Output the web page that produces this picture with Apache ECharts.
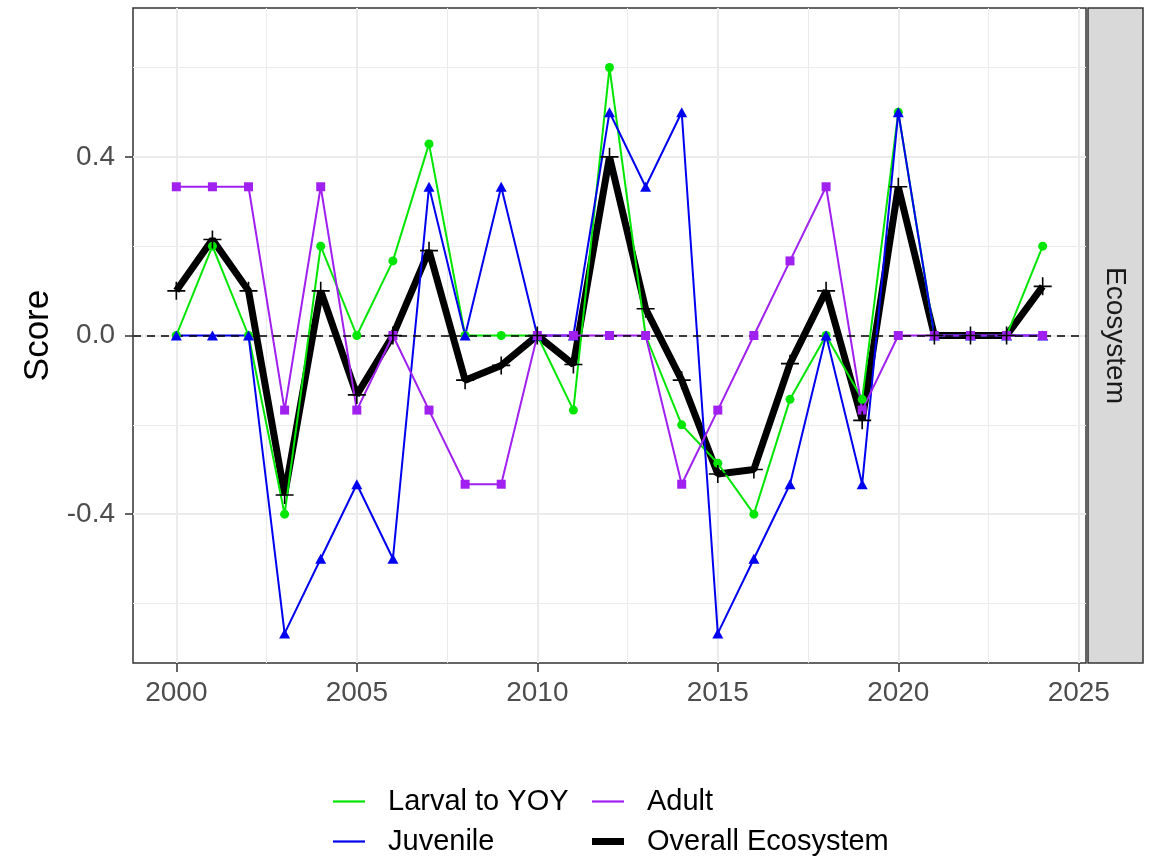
<!DOCTYPE html>
<html><head><meta charset="utf-8">
<script src="https://cdn.jsdelivr.net/npm/echarts@6/dist/echarts.min.js"></script>
<style>html,body{margin:0;padding:0;background:#fff}#c{width:1153px;height:856px}</style>
</head><body><div id="c"></div>
<script>
const years    = [2000,2001,2002,2003,2004,2005,2006,2007,2008,2009,2010,2011,2012,2013,2014,2015,2016,2017,2018,2019,2020,2021,2022,2023,2024];
const larval   = [0, 0.2, 0, -0.4, 0.2, 0, 0.167, 0.429, 0, 0, 0, -0.167, 0.6, 0, -0.2, -0.286, -0.4, -0.143, 0, -0.143, 0.5, 0, 0, 0, 0.2];
const juvenile = [0, 0, 0, -0.667, -0.5, -0.333, -0.5, 0.333, 0, 0.333, 0, 0, 0.5, 0.333, 0.5, -0.667, -0.5, -0.333, 0, -0.333, 0.5, 0, 0, 0, 0];
const adult    = [0.333, 0.333, 0.333, -0.167, 0.333, -0.167, 0, -0.167, -0.333, -0.333, 0, 0, 0, 0, -0.333, -0.167, 0, 0.167, 0.333, -0.167, 0, 0, 0, 0, 0];
const overall  = [0.1, 0.215, 0.1, -0.357, 0.1, -0.133, 0, 0.19, -0.1, -0.067, 0, -0.065, 0.4, 0.06, -0.1, -0.31, -0.3, -0.063, 0.1, -0.19, 0.333, 0, 0, 0, 0.11];
const seriesNames = ['Larval to YOY', 'Juvenile', 'Adult', 'Overall Ecosystem'];
const xTicks = [2000, 2005, 2010, 2015, 2020, 2025];
const xMinor = [2002.5, 2007.5, 2012.5, 2017.5, 2022.5];
const yTicks = [-0.4, 0, 0.4];
const yMinor = [-0.6, -0.2, 0.2, 0.6];
const stripLabel = 'Ecosystem';
const yTitle = 'Score';

const FONT = '"Liberation Sans", Arial, sans-serif';
const C = { green: '#00E600', blue: '#0000F0', purple: '#A020F0', black: '#000000' };
const pairs = arr => years.map((y, i) => [y, arr[i]]);
const plusPath = 'path://M-9,-0.8L9,-0.8L9,0.8L-9,0.8Z M-0.8,-9L0.8,-9L0.8,9L-0.8,9Z';

const gridLines = [].concat(
  xMinor.map(v => ({ xAxis: v, lineStyle: { width: 1, color: '#EBEBEB', type: 'solid' } })),
  yMinor.map(v => ({ yAxis: v, lineStyle: { width: 1, color: '#EBEBEB', type: 'solid' } })),
  xTicks.map(v => ({ xAxis: v, lineStyle: { width: 2, color: '#EBEBEB', type: 'solid' } })),
  yTicks.map(v => ({ yAxis: v, lineStyle: { width: 2, color: '#EBEBEB', type: 'solid' } }))
);

function lineSeries(name, arr, color, width, z, extra) {
  return Object.assign({
    type: 'line', name: name, data: pairs(arr), symbol: 'none', z: z,
    lineStyle: { color: color, width: width }, itemStyle: { color: color },
    silent: true, emphasis: { disabled: true }
  }, extra || {});
}
function pointSeries(name, arr, color, symbol, size, z) {
  return {
    type: 'scatter', name: name, data: pairs(arr), symbol: symbol, symbolSize: size, z: z,
    itemStyle: { color: color, opacity: 1 }, silent: true, emphasis: { disabled: true }
  };
}
function legendItem(name, left, top, icon) {
  return {
    orient: 'horizontal', left: left, top: top, padding: 0, itemWidth: 32, itemHeight: 14, selectedMode: false,
    textStyle: { fontSize: 29, color: '#000', fontFamily: FONT, padding: [0, 0, 0, 18] },
    data: [{ name: name, icon: icon }]
  };
}
const thinIcon = 'path://M0,0H32V2.2H0Z';
const thickIcon = 'path://M0,0H32V7H0Z';

const chart = echarts.init(document.getElementById('c'), null, { renderer: 'canvas' });
chart.setOption({
  animation: false,
  backgroundColor: '#fff',
  textStyle: { fontFamily: FONT },
  grid: { left: 133, right: 67, top: 8, bottom: 193, show: true, borderColor: '#333333', borderWidth: 1.5, backgroundColor: 'transparent' },
  xAxis: {
    type: 'value', min: 1998.8, max: 2025.2,
    axisLine: { show: false, onZero: false },
    axisTick: { show: true, customValues: xTicks, length: 9, lineStyle: { color: '#333333', width: 1.5 } },
    axisLabel: { customValues: xTicks, margin: 16, fontSize: 28, color: '#4D4D4D', fontFamily: FONT, formatter: v => String(v) },
    splitLine: { show: false }
  },
  yAxis: {
    type: 'value', min: -0.7333, max: 0.7333,
    name: yTitle, nameLocation: 'middle', nameRotate: 90, nameGap: 76,
    nameTextStyle: { fontSize: 35, color: '#000', fontFamily: FONT },
    axisLine: { show: false, onZero: false },
    axisTick: { show: true, customValues: yTicks, length: 8, lineStyle: { color: '#333333', width: 1.5 } },
    axisLabel: { customValues: yTicks, margin: 18, fontSize: 28, color: '#4D4D4D', fontFamily: FONT, formatter: v => v.toFixed(1) },
    splitLine: { show: false }
  },
  legend: [
    legendItem(seriesNames[0], 333, 787, thinIcon),
    legendItem(seriesNames[1], 333, 827, thinIcon),
    legendItem(seriesNames[2], 592, 787, thinIcon),
    legendItem(seriesNames[3], 592, 827, thickIcon)
  ],
  graphic: [
    { type: 'rect', z: 10, shape: { x: 1088, y: 8, width: 55, height: 655 }, style: { fill: '#D9D9D9', stroke: '#333333', lineWidth: 1.5 } },
    { type: 'text', z: 11, x: 1115, y: 335.5, rotation: -Math.PI / 2,
      style: { text: stripLabel, fontSize: 28, fontFamily: FONT, fill: '#1A1A1A', align: 'center', verticalAlign: 'middle' } }
  ],
  series: [
    lineSeries(seriesNames[3], overall, C.black, 7, 1, {
      markLine: { silent: true, z: 0, symbol: ['none', 'none'], label: { show: false }, emphasis: { disabled: true }, data: gridLines }
    }),
    lineSeries(seriesNames[0], larval, C.green, 2, 2),
    lineSeries(seriesNames[1], juvenile, C.blue, 2, 2),
    lineSeries(seriesNames[2], adult, C.purple, 2, 2, {
      markLine: { silent: true, z: 3, symbol: ['none', 'none'], label: { show: false }, emphasis: { disabled: true },
        data: [{ yAxis: 0, lineStyle: { color: '#000', width: 1.6, type: [8, 6] } }] }
    }),
    pointSeries(seriesNames[0], larval, C.green, 'circle', 9, 4),
    pointSeries(seriesNames[1], juvenile, C.blue, 'triangle', [11, 10], 4),
    pointSeries(seriesNames[2], adult, C.purple, 'rect', 9, 4),
    pointSeries(seriesNames[3], overall, C.black, plusPath, 18, 5)
  ]
});
</script>
</body></html>
